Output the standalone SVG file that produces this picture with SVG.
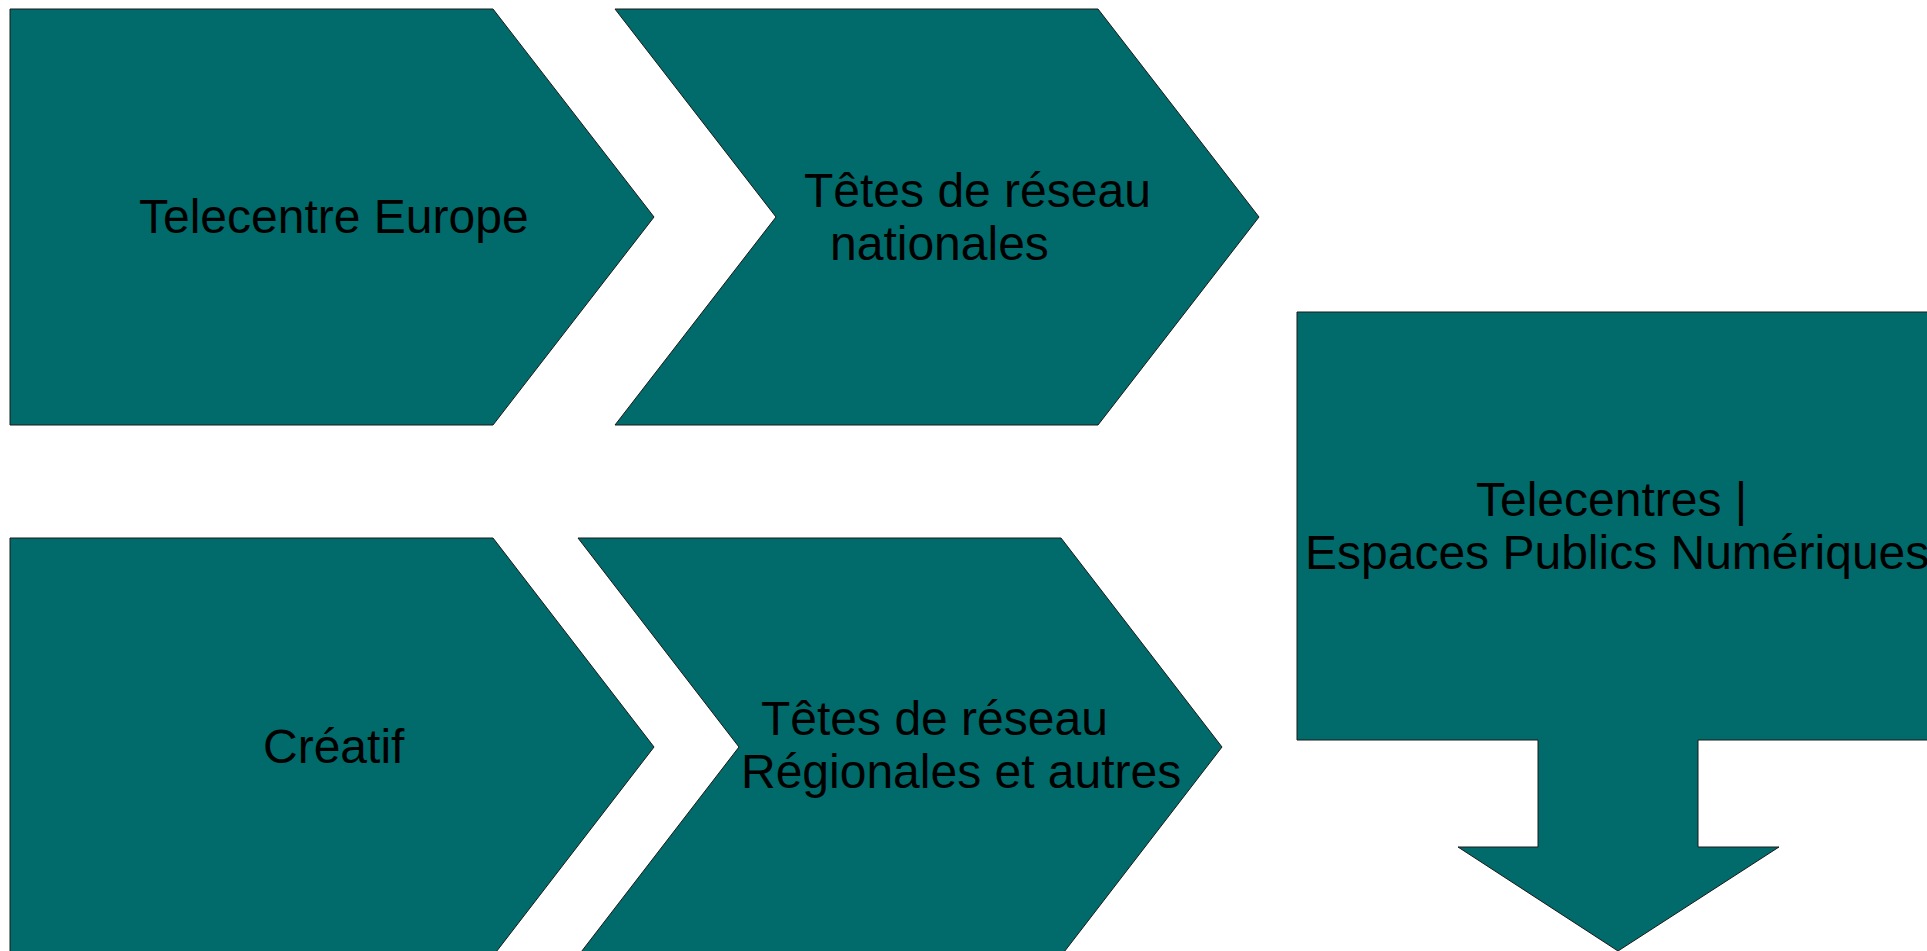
<svg xmlns="http://www.w3.org/2000/svg" width="1927" height="951" viewBox="0 0 1927 951">
<style>
.shape{fill:#006B6A;stroke:#1a1a1a;stroke-width:1}
.lbl{font-family:"Liberation Sans",Arial,sans-serif;font-size:48px;fill:#000}
</style>
<rect width="1927" height="951" fill="#fff"/>
<g id="connectors"></g>
<g id="node-telecentre-europe">
<polygon class="shape" points="10,9 493,9 654,217 493,425 10,425"/>
<text class="lbl" x="139" y="233">Telecentre Europe</text>
</g>
<g id="node-tetes-nationales">
<polygon class="shape" points="615,9 1098,9 1259,217 1098,425 615,425 776,217"/>
<text class="lbl" x="804" y="207">Têtes de réseau</text>
<text class="lbl" x="830" y="260">nationales</text>
</g>
<g id="node-creatif">
<polygon class="shape" points="10,538 493,538 654,747 493,956 10,956"/>
<text class="lbl" x="263" y="763">Créatif</text>
</g>
<g id="node-tetes-regionales">
<polygon class="shape" points="578,538 1061,538 1222,747 1061,956 578,956 739,747"/>
<text class="lbl" x="761" y="735">Têtes de réseau</text>
<text class="lbl" x="741" y="788">Régionales et autres</text>
</g>
<g id="node-telecentres-epn">
<polygon class="shape" points="1297,312 1930,312 1930,740 1698,740 1698,847 1779,847 1618,951 1458,847 1538,847 1538,740 1297,740"/>
<text class="lbl" x="1476" y="516">Telecentres |</text>
<text class="lbl" x="1305" y="569">Espaces Publics Numériques</text>
</g>
</svg>
